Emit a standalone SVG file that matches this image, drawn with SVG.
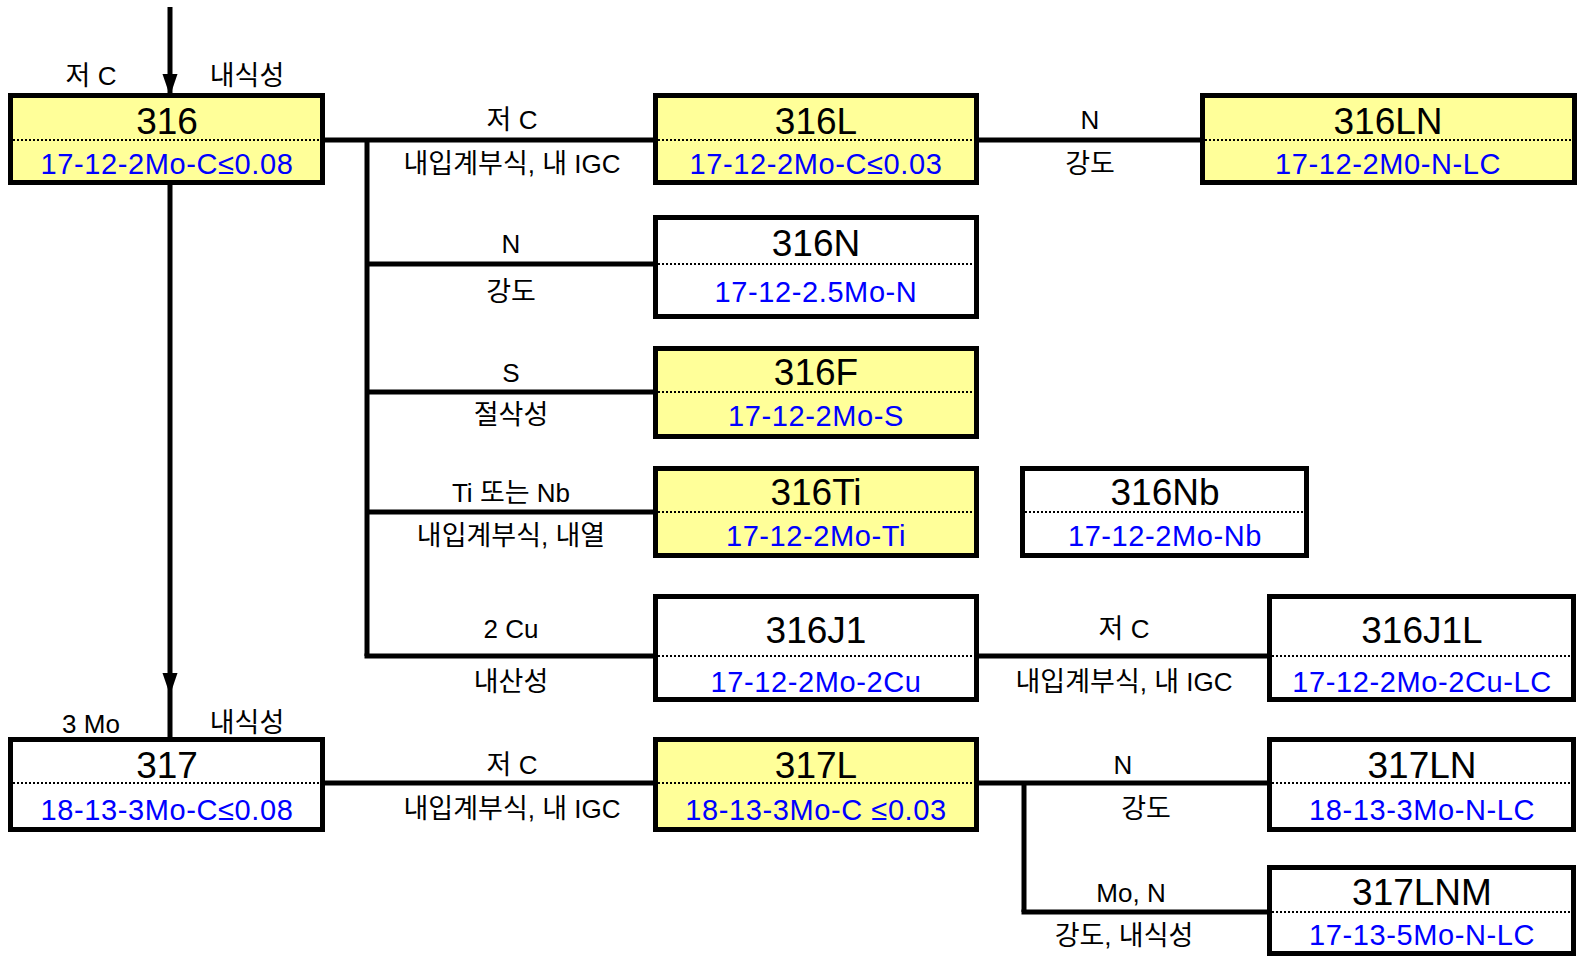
<svg xmlns="http://www.w3.org/2000/svg" width="1581" height="959" viewBox="0 0 1581 959">
<style>
.box{stroke:#000;stroke-width:5;fill:#fff}
.y{fill:#ffff99}
.dot{stroke:#000;stroke-width:2;stroke-dasharray:2 2;fill:none}
.ln{stroke:#000;stroke-width:5;fill:none}
text{font-family:"Liberation Sans","Noto Sans CJK KR",sans-serif;text-anchor:middle}
.t{font-size:37px;fill:#000}
.b{font-size:29px;fill:#0000ff;letter-spacing:0.6px}
.l{font-size:26px;fill:#000}
.k{font-size:27px}
</style>
<g id="connectors">
<line class="ln" x1="170" y1="7" x2="170" y2="96"/>
<path d="M162.5,74 L177.5,74 L170,96 Z" fill="#000"/>
<line class="ln" x1="170" y1="185" x2="170" y2="739"/>
<path d="M162.5,673 L177.5,673 L170,695 Z" fill="#000"/>
<line class="ln" x1="325" y1="140" x2="655" y2="140"/>
<line class="ln" x1="367" y1="140" x2="367" y2="656"/>
<line class="ln" x1="367" y1="264" x2="655" y2="264"/>
<line class="ln" x1="367" y1="392" x2="655" y2="392"/>
<line class="ln" x1="367" y1="512" x2="655" y2="512"/>
<line class="ln" x1="364.5" y1="656" x2="655" y2="656"/>
<line class="ln" x1="979" y1="140" x2="1202" y2="140"/>
<line class="ln" x1="979" y1="656" x2="1269" y2="656"/>
<line class="ln" x1="325" y1="783" x2="655" y2="783"/>
<line class="ln" x1="979" y1="783" x2="1269" y2="783"/>
<line class="ln" x1="1024" y1="783" x2="1024" y2="912"/>
<line class="ln" x1="1021.5" y1="912" x2="1269" y2="912"/>
<text class="l" x="91" y="85"><tspan class="k">저</tspan> C</text>
<text class="l" x="247" y="85"><tspan class="k">내식성</tspan></text>
<text class="l" x="512" y="129"><tspan class="k">저</tspan> C</text>
<text class="l" x="512" y="173"><tspan class="k">내입계부식</tspan>, <tspan class="k">내</tspan> IGC</text>
<text class="l" x="1090" y="129">N</text>
<text class="l" x="1090" y="173"><tspan class="k">강도</tspan></text>
<text class="l" x="511" y="253">N</text>
<text class="l" x="511" y="301"><tspan class="k">강도</tspan></text>
<text class="l" x="511" y="382">S</text>
<text class="l" x="511" y="424"><tspan class="k">절삭성</tspan></text>
<text class="l" x="511" y="502">Ti <tspan class="k">또는</tspan> Nb</text>
<text class="l" x="511" y="545"><tspan class="k">내입계부식</tspan>, <tspan class="k">내열</tspan></text>
<text class="l" x="511" y="638">2 Cu</text>
<text class="l" x="511" y="691"><tspan class="k">내산성</tspan></text>
<text class="l" x="1124" y="638"><tspan class="k">저</tspan> C</text>
<text class="l" x="1124" y="691"><tspan class="k">내입계부식</tspan>, <tspan class="k">내</tspan> IGC</text>
<text class="l" x="91" y="733">3 Mo</text>
<text class="l" x="247" y="732"><tspan class="k">내식성</tspan></text>
<text class="l" x="512" y="774"><tspan class="k">저</tspan> C</text>
<text class="l" x="512" y="818"><tspan class="k">내입계부식</tspan>, <tspan class="k">내</tspan> IGC</text>
<text class="l" x="1123" y="774">N</text>
<text class="l" x="1146" y="818"><tspan class="k">강도</tspan></text>
<text class="l" x="1131" y="902">Mo, N</text>
<text class="l" x="1124" y="945"><tspan class="k">강도</tspan>, <tspan class="k">내식성</tspan></text>
</g>
<g id="n316">
<rect class="box y" x="10.5" y="95.5" width="312" height="87"/>
<line class="dot" x1="13" y1="140" x2="320" y2="140"/>
<text class="t" x="167" y="134">316</text>
<text class="b" x="167" y="174">17-12-2Mo-C≤0.08</text>
</g>
<g id="n316L">
<rect class="box y" x="655.5" y="95.5" width="321" height="87"/>
<line class="dot" x1="658" y1="140" x2="974" y2="140"/>
<text class="t" x="816" y="134">316L</text>
<text class="b" x="816" y="174">17-12-2Mo-C≤0.03</text>
</g>
<g id="n316LN">
<rect class="box y" x="1202.5" y="95.5" width="372" height="87"/>
<line class="dot" x1="1205" y1="140" x2="1572" y2="140"/>
<text class="t" x="1388" y="134">316LN</text>
<text class="b" x="1388" y="174">17-12-2M0-N-LC</text>
</g>
<g id="n316N">
<rect class="box" x="655.5" y="217.5" width="321" height="99"/>
<line class="dot" x1="658" y1="264" x2="974" y2="264"/>
<text class="t" x="816" y="256">316N</text>
<text class="b" x="816" y="302">17-12-2.5Mo-N</text>
</g>
<g id="n316F">
<rect class="box y" x="655.5" y="348.5" width="321" height="88"/>
<line class="dot" x1="658" y1="392" x2="974" y2="392"/>
<text class="t" x="816" y="385">316F</text>
<text class="b" x="816" y="426">17-12-2Mo-S</text>
</g>
<g id="n316Ti">
<rect class="box y" x="655.5" y="468.5" width="321" height="87"/>
<line class="dot" x1="658" y1="512" x2="974" y2="512"/>
<text class="t" x="816" y="505">316Ti</text>
<text class="b" x="816" y="546">17-12-2Mo-Ti</text>
</g>
<g id="n316Nb">
<rect class="box" x="1022.5" y="468.5" width="284" height="87"/>
<line class="dot" x1="1025" y1="512" x2="1304" y2="512"/>
<text class="t" x="1165" y="505">316Nb</text>
<text class="b" x="1165" y="546">17-12-2Mo-Nb</text>
</g>
<g id="n316J1">
<rect class="box" x="655.5" y="596.5" width="321" height="103"/>
<line class="dot" x1="658" y1="656" x2="974" y2="656"/>
<text class="t" x="816" y="643">316J1</text>
<text class="b" x="816" y="692">17-12-2Mo-2Cu</text>
</g>
<g id="n316J1L">
<rect class="box" x="1269.5" y="596.5" width="304" height="103"/>
<line class="dot" x1="1272" y1="656" x2="1571" y2="656"/>
<text class="t" x="1422" y="643">316J1L</text>
<text class="b" x="1422" y="692">17-12-2Mo-2Cu-LC</text>
</g>
<g id="n317">
<rect class="box" x="10.5" y="739.5" width="312" height="90"/>
<line class="dot" x1="13" y1="783" x2="320" y2="783"/>
<text class="t" x="167" y="778">317</text>
<text class="b" x="167" y="820">18-13-3Mo-C≤0.08</text>
</g>
<g id="n317L">
<rect class="box y" x="655.5" y="739.5" width="321" height="90"/>
<line class="dot" x1="658" y1="783" x2="974" y2="783"/>
<text class="t" x="816" y="778">317L</text>
<text class="b" x="816" y="820">18-13-3Mo-C ≤0.03</text>
</g>
<g id="n317LN">
<rect class="box" x="1269.5" y="739.5" width="304" height="90"/>
<line class="dot" x1="1272" y1="783" x2="1571" y2="783"/>
<text class="t" x="1422" y="778">317LN</text>
<text class="b" x="1422" y="820">18-13-3Mo-N-LC</text>
</g>
<g id="n317LNM">
<rect class="box" x="1269.5" y="867.5" width="304" height="86"/>
<line class="dot" x1="1272" y1="912" x2="1571" y2="912"/>
<text class="t" x="1422" y="905">317LNM</text>
<text class="b" x="1422" y="945">17-13-5Mo-N-LC</text>
</g>
</svg>
